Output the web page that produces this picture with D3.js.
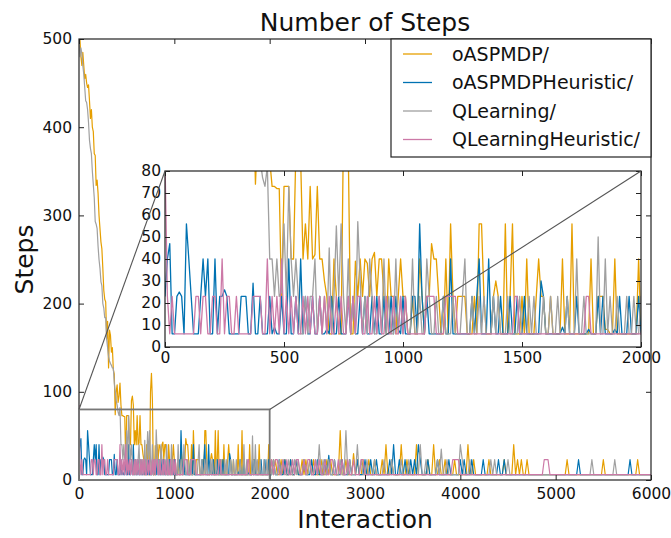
<!DOCTYPE html>
<html><head><meta charset="utf-8">
<script src="https://cdn.jsdelivr.net/npm/d3@7"></script>
<style>
body{margin:0;background:#fff}
text{font-family:"DejaVu Sans",sans-serif;fill:#111}
</style>
</head><body>
<svg id="c" width="671" height="538"></svg>
<script>
// ---------- DATA ----------
const title = "Number of Steps";
const xLabel = "Interaction";
const yLabel = "Steps";
const seriesNames = ["oASPMDP/", "oASPMDPHeuristic/", "QLearning/", "QLearningHeuristic/"];
const seriesColors = ["#E69F00", "#0072B2", "#A0A0A0", "#CC79A7"];
const mainXTicks = [0, 1000, 2000, 3000, 4000, 5000, 6000];
const mainYTicks = [0, 100, 200, 300, 400, 500];
const insetXTicks = [0, 500, 1000, 1500, 2000];
const insetYTicks = [0, 10, 20, 30, 40, 50, 60, 70, 80];

// interaction grid: every 10 up to 2000, every 20 after
const fineX = d3.range(0, 2001, 10);     // 201 points
const coarseX = d3.range(2020, 6001, 20); // 200 points

const oaspmdpFine = [
500,499,480,470,485,470,455,460,450,445,
448,430,410,420,400,395,370,368,334,340,
325,300,285,270,262,240,215,205,202,160,
180,127,170,164,145,150,125,120,74,100,
108,88,95,110,85,73,73,72,72,21,
73,73,73,40,40,90,95,85,40,56,
40,73,40,42,73,40,40,30,23,6,
6,40,23,6,6,100,121,90,6,6,
39,23,40,23,40,38,23,40,43,23,
40,40,23,6,40,23,23,6,23,40,
23,23,6,6,23,6,6,40,23,6,
23,23,47,40,40,23,6,6,40,6,
56,23,6,23,23,23,23,6,6,6,
23,6,56,56,23,6,6,6,23,30,
23,6,6,56,6,23,56,6,6,6,
23,6,40,6,6,6,23,40,23,23,
6,6,23,6,6,6,6,40,6,6,
6,56,6,6,6,6,6,6,6,40,
6,6,23,23,23,8,8,6,6,40,
6,6,6,6,6,6,6,6,6,40,
6];
const oaspmdpCoarse = [
23,6,23,6,6,23,6,23,6,6,
23,6,6,23,6,6,23,6,23,6,
23,6,23,6,6,6,23,6,6,23,
6,23,6,6,6,6,56,6,6,23,
6,6,6,30,6,23,6,6,23,6,
6,23,6,6,23,6,6,6,23,6,
40,6,6,23,6,6,6,6,40,6,
6,23,6,6,6,6,40,6,6,6,
6,6,23,6,6,40,6,6,23,6,
6,23,6,6,6,6,23,6,6,6,
6,6,6,40,6,6,23,6,6,6,
6,6,6,6,23,6,6,6,6,6,
6,6,23,6,6,6,6,40,6,23,
6,23,6,6,23,6,6,6,6,6,
6,6,6,6,6,6,6,6,6,6,
6,6,6,6,6,23,6,6,6,6,
6,6,6,6,6,6,6,6,6,6,
6,6,6,6,23,6,6,6,6,6,
6,6,6,6,6,6,6,6,6,6,
6,6,23,6,6,6,6,6,6,6];

const oaspmdpHeurFine = [
23,40,47,6,6,23,25,23,6,56,
40,23,6,6,6,23,40,23,40,6,
6,40,6,23,23,26,23,6,6,6,
6,6,23,23,23,6,6,29,6,6,
23,6,6,6,23,6,9,6,6,23,
6,6,40,6,6,23,6,40,6,23,
6,6,23,6,6,23,6,6,8,6,
23,6,6,23,6,6,6,23,6,23,
6,6,23,6,23,6,6,23,6,23,
6,6,23,6,6,23,6,23,8,6,
23,6,6,6,23,23,6,56,23,6,
23,6,6,6,6,6,6,23,6,6,
40,6,6,6,6,6,6,6,6,23,
6,23,40,6,6,6,40,6,23,6,
6,23,6,6,6,23,6,6,23,6,
6,23,6,6,6,6,6,6,30,23,
6,6,6,6,6,6,6,9,6,23,
6,6,6,23,6,6,6,6,8,6,
6,6,23,6,23,6,6,6,6,8,
6,23,6,6,6,23,6,6,6,23,
6];
const oaspmdpHeurCoarse = [
6,23,6,6,23,6,6,23,6,6,
23,6,6,23,6,6,6,23,6,6,
6,23,6,6,23,6,6,6,23,6,
28,6,6,23,6,6,6,23,6,6,
6,23,6,6,6,23,6,6,6,23,
6,6,23,6,6,23,6,6,6,6,
6,6,23,6,40,6,6,23,6,6,
23,6,6,23,6,23,6,40,23,6,
6,6,23,6,6,6,6,23,6,6,
6,6,6,23,6,6,6,6,6,23,
6,23,6,6,6,23,6,6,6,6,
6,23,6,6,6,6,6,6,6,23,
6,6,23,6,6,6,6,6,6,6,
6,6,6,6,6,6,6,6,6,6,
6,6,6,6,6,6,6,6,6,6,
6,6,6,6,6,6,6,6,6,6,
6,23,6,6,6,6,6,6,6,6,
6,6,6,6,6,6,6,6,6,6,
6,6,6,6,6,6,6,6,23,6,
6,6,6,6,6,6,6,6,6,6];

const qlearningFine = [
500,480,490,483,470,460,445,430,428,420,
405,385,376,370,350,335,320,293,290,285,
265,250,240,225,220,200,195,184,184,160,
150,140,135,132,130,127,127,110,100,90,
85,77,73,82,40,40,23,40,23,25,
56,23,73,40,23,40,23,6,6,23,
6,23,23,40,6,23,6,23,6,45,
6,23,55,23,56,23,6,40,6,23,
6,57,30,6,23,6,40,23,6,6,
23,6,40,6,23,6,6,40,6,23,
6,23,6,6,40,6,6,23,6,6,
40,23,6,6,23,6,6,23,6,6,
6,23,6,6,6,23,40,6,6,23,
6,6,23,6,23,6,6,6,23,6,
23,6,6,6,23,6,6,6,6,23,
6,6,6,23,6,23,6,6,6,23,
6,6,23,6,6,23,6,6,6,23,
6,6,6,40,6,6,23,6,6,6,
6,6,50,6,6,40,6,23,6,6,
23,6,6,6,23,6,6,23,6,6,
23];
const qlearningCoarse = [
6,23,6,6,23,6,23,6,6,23,
6,6,23,6,23,6,6,23,6,6,
23,6,6,23,6,40,6,23,6,6,
23,6,6,23,6,6,23,6,6,56,
6,23,6,6,6,40,6,23,6,6,
23,6,6,6,23,6,6,6,6,23,
6,6,6,23,6,6,6,6,23,6,
6,6,23,6,6,6,6,6,40,6,
6,23,6,6,6,6,6,23,6,35,
6,6,23,6,6,6,6,6,6,40,
23,6,6,6,23,6,6,6,6,6,
6,6,6,6,6,23,6,23,6,6,
6,6,6,6,23,6,6,6,6,6,
6,6,6,6,6,6,6,6,6,6,
6,6,6,6,6,6,6,6,6,6,
6,6,6,6,6,6,6,6,6,6,
6,6,6,6,6,6,6,6,23,6,
6,6,6,6,6,6,6,6,6,6,
23,6,6,6,6,6,6,6,6,6,
6,6,6,6,6,6,6,6,6,6];

const qlearningHeurFine = [
85,23,6,23,6,6,6,6,6,6,
6,6,6,23,23,6,23,23,6,6,
23,23,6,6,40,6,23,23,6,6,
23,6,6,6,6,6,6,23,23,23,
23,6,6,40,6,23,6,23,6,40,
6,23,6,23,6,23,6,6,23,6,
23,6,23,6,6,23,6,23,6,23,
6,6,23,6,23,6,6,23,6,23,
6,23,23,6,6,23,6,6,23,6,
23,6,6,23,6,6,23,6,6,23,
6,23,6,6,6,6,6,6,6,6,
23,23,23,23,6,6,6,6,23,23,
23,23,23,6,6,6,6,6,6,6,
6,6,6,6,6,6,6,6,6,6,
6,6,6,6,6,6,6,23,23,6,
6,6,6,6,6,6,6,6,6,6,
6,6,6,6,6,6,6,6,6,6,
6,6,6,6,6,6,6,23,23,6,
6,6,6,6,6,6,6,6,6,6,
6,6,6,6,6,6,6,6,6,6,
6];
const qlearningHeurCoarse = [
23,6,23,23,6,6,23,6,23,6,
6,23,6,23,23,6,6,23,6,23,
23,6,6,23,6,23,6,6,23,6,
6,23,23,6,6,23,6,23,6,6,
23,6,6,23,6,6,6,23,23,6,
6,6,6,6,6,6,6,6,6,6,
6,6,6,6,6,6,6,6,6,6,
6,6,6,6,6,6,6,6,6,6,
6,6,6,6,6,6,6,6,6,6,
6,6,6,6,6,23,23,23,23,6,
6,6,6,6,6,6,6,6,6,6,
6,6,6,6,6,6,6,6,6,6,
6,6,6,6,6,6,6,6,6,6,
6,6,6,6,6,6,6,6,6,6,
6,6,6,23,23,23,6,6,6,6,
6,6,6,6,6,6,6,6,6,6,
6,6,6,6,6,6,6,6,6,6,
6,6,6,6,6,6,6,6,6,6,
6,6,6,6,6,6,6,6,6,6,
6,6,6,6,6,6,6,6,6,6];

// ---------- BUILD ----------
const interactions = fineX.concat(coarseX);
const seriesValues = [
  oaspmdpFine.concat(oaspmdpCoarse),
  oaspmdpHeurFine.concat(oaspmdpHeurCoarse),
  qlearningFine.concat(qlearningCoarse),
  qlearningHeurFine.concat(qlearningHeurCoarse)
];
const series = seriesNames.map((name, k) => ({
  name, color: seriesColors[k],
  points: interactions.map((xv, i) => [xv, seriesValues[k][i]]).filter(p => p[1] !== undefined)
}));

const svg = d3.select("#c");
const frameColor = "#222";

// main scales
const x = d3.scaleLinear().domain([0, 6000]).range([79, 651]);
const y = d3.scaleLinear().domain([0, 500]).range([480, 39]);
// inset scales
const xi = d3.scaleLinear().domain([0, 2000]).range([165, 641]);
const yi = d3.scaleLinear().domain([0, 80]).range([347, 171]);

const defs = svg.append("defs");
defs.append("clipPath").attr("id", "clipMain").append("rect")
  .attr("x", x(0)).attr("y", y(500)).attr("width", x(6000) - x(0)).attr("height", y(0) - y(500));
defs.append("clipPath").attr("id", "clipInset").append("rect")
  .attr("x", xi(0)).attr("y", yi(80)).attr("width", xi(2000) - xi(0)).attr("height", yi(0) - yi(80));

svg.append("rect").attr("width", 671).attr("height", 538).attr("fill", "#fff");

// main lines
const lineMain = d3.line().x(d => x(d[0])).y(d => y(d[1]));
const gMain = svg.append("g").attr("clip-path", "url(#clipMain)");
series.forEach(s => {
  gMain.append("path").attr("d", lineMain(s.points)).attr("fill", "none")
    .attr("stroke", s.color).attr("stroke-width", 1.2).attr("stroke-linejoin", "round");
});

function styleAxis(g, fs) {
  g.select(".domain").remove();
  g.selectAll(".tick line").attr("stroke", frameColor);
  g.selectAll(".tick text").style("font-size", fs + "px").attr("fill", "#111");
}

// main axes
svg.append("g").attr("transform", `translate(0,${y(0)})`)
  .call(d3.axisBottom(x).tickValues(mainXTicks).tickSize(-5).tickPadding(8).tickFormat(d3.format("d")))
  .call(g => styleAxis(g, 15.5));
svg.append("g").attr("transform", `translate(0,${y(500)})`)
  .call(d3.axisTop(x).tickValues(mainXTicks).tickSize(-5).tickFormat(""))
  .call(g => styleAxis(g, 15.5));
svg.append("g").attr("transform", `translate(${x(0)},0)`)
  .call(d3.axisLeft(y).tickValues(mainYTicks).tickSize(-5).tickPadding(7).tickFormat(d3.format("d")))
  .call(g => styleAxis(g, 15.5));
svg.append("g").attr("transform", `translate(${x(6000)},0)`)
  .call(d3.axisRight(y).tickValues(mainYTicks).tickSize(-5).tickFormat(""))
  .call(g => styleAxis(g, 15.5));
svg.append("rect").attr("x", x(0)).attr("y", y(500)).attr("width", x(6000) - x(0)).attr("height", y(0) - y(500))
  .attr("fill", "none").attr("stroke", frameColor).attr("stroke-width", 1.2);

// zoom rectangle on main
svg.append("rect").attr("x", x(0)).attr("y", y(80)).attr("width", x(2000) - x(0)).attr("height", y(0) - y(80))
  .attr("fill", "none").attr("stroke", "#777").attr("stroke-width", 1.8);

// inset
svg.append("rect").attr("x", xi(0)).attr("y", yi(80)).attr("width", xi(2000) - xi(0)).attr("height", yi(0) - yi(80))
  .attr("fill", "#fff");
const lineInset = d3.line().x(d => xi(d[0])).y(d => yi(d[1]));
const gInset = svg.append("g").attr("clip-path", "url(#clipInset)");
series.forEach(s => {
  gInset.append("path").attr("d", lineInset(s.points.filter(p => p[0] <= 2020))).attr("fill", "none")
    .attr("stroke", s.color).attr("stroke-width", 1.3).attr("stroke-linejoin", "round");
});
svg.append("g").attr("transform", `translate(0,${yi(0)})`)
  .call(d3.axisBottom(xi).tickValues(insetXTicks).tickSize(-5).tickPadding(5).tickFormat(d3.format("d")))
  .call(g => styleAxis(g, 15.5));
svg.append("g").attr("transform", `translate(0,${yi(80)})`)
  .call(d3.axisTop(xi).tickValues(insetXTicks).tickSize(-5).tickFormat(""))
  .call(g => styleAxis(g, 15.5));
svg.append("g").attr("transform", `translate(${xi(0)},0)`)
  .call(d3.axisLeft(yi).tickValues(insetYTicks).tickSize(-5).tickPadding(4).tickFormat(d3.format("d")))
  .call(g => styleAxis(g, 15.5));
svg.append("g").attr("transform", `translate(${xi(2000)},0)`)
  .call(d3.axisRight(yi).tickValues(insetYTicks).tickSize(-5).tickFormat(""))
  .call(g => styleAxis(g, 15.5));
svg.append("rect").attr("x", xi(0)).attr("y", yi(80)).attr("width", xi(2000) - xi(0)).attr("height", yi(0) - yi(80))
  .attr("fill", "none").attr("stroke", frameColor).attr("stroke-width", 1.2);

// connector lines (zoom rect top corners -> inset top corners)
[[0, 0], [2000, 2000]].forEach(([a, b]) => {
  svg.append("line").attr("x1", x(a)).attr("y1", y(80)).attr("x2", xi(b)).attr("y2", yi(80))
    .attr("stroke", "#555").attr("stroke-width", 1.1);
});

// legend
const lg = svg.append("g");
lg.append("rect").attr("x", 391).attr("y", 39).attr("width", 260).attr("height", 118)
  .attr("fill", "#fff").attr("stroke", frameColor).attr("stroke-width", 1.2);
series.forEach((s, k) => {
  const cy = 54 + k * 28.5;
  lg.append("line").attr("x1", 403).attr("x2", 432).attr("y1", cy).attr("y2", cy)
    .attr("stroke", s.color).attr("stroke-width", 1.3);
  lg.append("text").attr("x", 452).attr("y", cy).attr("dy", "0.35em")
    .style("font-size", "19px").text(s.name);
});

// titles
svg.append("text").attr("x", (x(0) + x(6000)) / 2).attr("y", 31).attr("text-anchor", "middle")
  .style("font-size", "25px").text(title);
svg.append("text").attr("x", (x(0) + x(6000)) / 2).attr("y", 528).attr("text-anchor", "middle")
  .style("font-size", "25px").text(xLabel);
svg.append("text").attr("transform", `translate(33,${(y(0) + y(500)) / 2}) rotate(-90)`)
  .attr("text-anchor", "middle").style("font-size", "25px").text(yLabel);
</script>
</body></html>
